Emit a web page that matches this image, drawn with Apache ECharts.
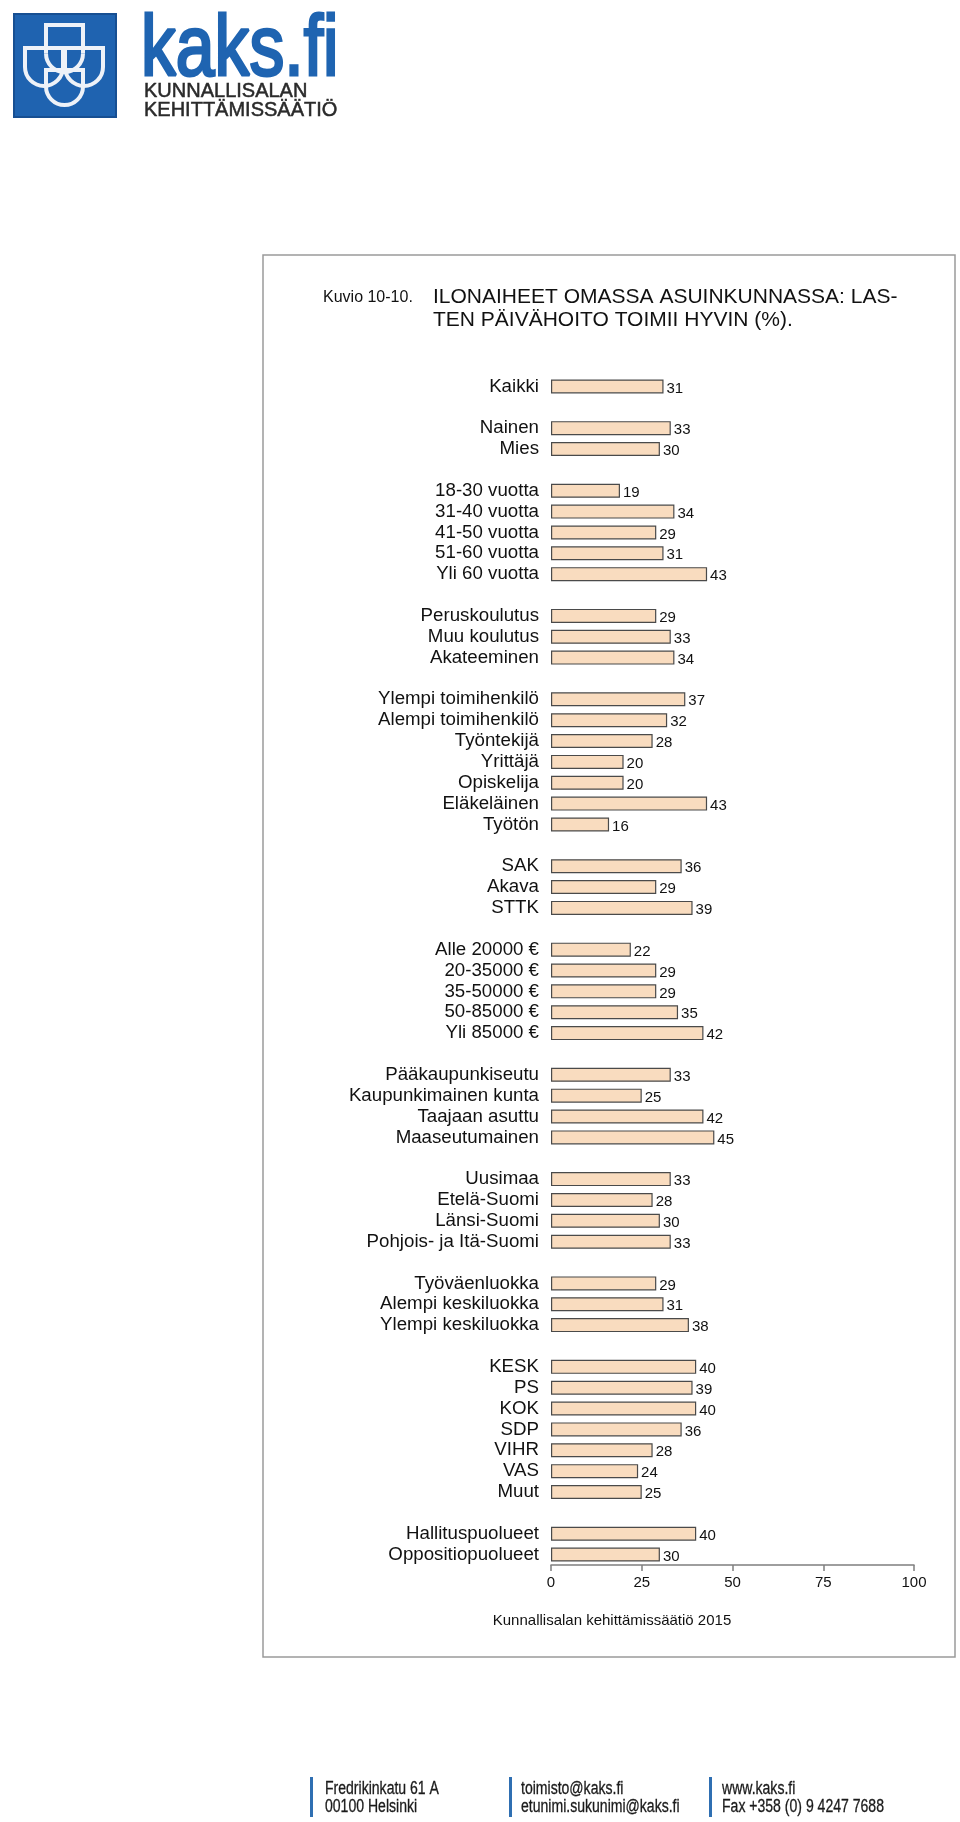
<!DOCTYPE html>
<html>
<head>
<meta charset="utf-8">
<script src="https://cdn.jsdelivr.net/npm/echarts@6/dist/echarts.min.js"></script>
<style>
html,body{margin:0;padding:0;background:#fff;}
#chart{width:960px;height:1822px;}
</style>
</head>
<body>
<div id="chart"></div>
<script>
// ---- Data ----
const grpAll = ['Kaikki'];
const valAll = [31];
const grpSex = ['Nainen', 'Mies'];
const valSex = [33, 30];
const grpAge = ['18-30 vuotta', '31-40 vuotta', '41-50 vuotta', '51-60 vuotta', 'Yli 60 vuotta'];
const valAge = [19, 34, 29, 31, 43];
const grpEdu = ['Peruskoulutus', 'Muu koulutus', 'Akateeminen'];
const valEdu = [29, 33, 34];
const grpOcc = ['Ylempi toimihenkilö', 'Alempi toimihenkilö', 'Työntekijä', 'Yrittäjä', 'Opiskelija', 'Eläkeläinen', 'Työtön'];
const valOcc = [37, 32, 28, 20, 20, 43, 16];
const grpUnion = ['SAK', 'Akava', 'STTK'];
const valUnion = [36, 29, 39];
const grpInc = ['Alle 20000 €', '20-35000 €', '35-50000 €', '50-85000 €', 'Yli 85000 €'];
const valInc = [22, 29, 29, 35, 42];
const grpMun = ['Pääkaupunkiseutu', 'Kaupunkimainen kunta', 'Taajaan asuttu', 'Maaseutumainen'];
const valMun = [33, 25, 42, 45];
const grpReg = ['Uusimaa', 'Etelä-Suomi', 'Länsi-Suomi', 'Pohjois- ja Itä-Suomi'];
const valReg = [33, 28, 30, 33];
const grpClass = ['Työväenluokka', 'Alempi keskiluokka', 'Ylempi keskiluokka'];
const valClass = [29, 31, 38];
const grpParty = ['KESK', 'PS', 'KOK', 'SDP', 'VIHR', 'VAS', 'Muut'];
const valParty = [40, 39, 40, 36, 28, 24, 25];
const grpGov = ['Hallituspuolueet', 'Oppositiopuolueet'];
const valGov = [40, 30];
const xTicks = [0, 25, 50, 75, 100];

// build category list with an empty slot between groups
const groups = [
  [grpAll, valAll], [grpSex, valSex], [grpAge, valAge], [grpEdu, valEdu],
  [grpOcc, valOcc], [grpUnion, valUnion], [grpInc, valInc], [grpMun, valMun],
  [grpReg, valReg], [grpClass, valClass], [grpParty, valParty], [grpGov, valGov]
];
const categories = [];
const values = [];
groups.forEach(function (g, i) {
  if (i > 0) { categories.push(' '.repeat(i)); values.push('-'); }
  g[0].forEach(function (c, j) { categories.push(c); values.push(g[1][j]); });
});

const chart = echarts.init(document.getElementById('chart'), null, {renderer: 'canvas'});
const FONT = '"Liberation Sans", Arial, sans-serif';

function footerText(x, y, t) {
  return {type: 'text', x: x, y: y, scaleX: 0.78, scaleY: 1,
    style: {text: t, font: '18px ' + FONT, fill: '#1a1a1a', stroke: '#1a1a1a', lineWidth: 0.3,
      verticalAlign: 'middle'}};
}
const EMB = '#eef2f8';
function shield(x0, x1, yTop, yBot) {
  const r = (x1 - x0) / 2;
  const yArc = yBot - r;
  return [
    {type: 'polyline', shape: {points: [[x0, yArc], [x0, yTop], [x1, yTop], [x1, yArc]]},
      style: {fill: null, stroke: EMB, lineWidth: 4}},
    {type: 'arc', shape: {cx: (x0 + x1) / 2, cy: yArc, r: r, startAngle: 0, endAngle: Math.PI, clockwise: true},
      style: {fill: null, stroke: EMB, lineWidth: 4}}
  ];
}

const graphics = [
  // logo
  {type: 'rect', shape: {x: 14, y: 14, width: 102, height: 103},
    style: {fill: '#1f63b0', stroke: '#174f92', lineWidth: 2}}
].concat(
  shield(46, 83, 25, 72),
  shield(25, 63, 48, 86),
  shield(65, 103, 48, 86),
  shield(46, 83, 70, 105),
  [
    {type: 'text', x: 141, y: 52, scaleX: 0.82,
      style: {text: 'kaks.fi', font: '85px ' + FONT, fill: '#1f64b1', stroke: '#1f64b1', lineWidth: 3,
        verticalAlign: 'middle'}},
    {type: 'text', x: 144, y: 91,
      style: {text: 'KUNNALLISALAN', font: '20px ' + FONT, fill: '#2a2a2a', stroke: '#2a2a2a', lineWidth: 0.5,
        verticalAlign: 'middle'}},
    {type: 'text', x: 144, y: 110,
      style: {text: 'KEHITTÄMISSÄÄTIÖ', font: '20px ' + FONT, fill: '#2a2a2a', stroke: '#2a2a2a', lineWidth: 0.5,
        verticalAlign: 'middle'}},
    // frame
    {type: 'rect', shape: {x: 263, y: 255, width: 692, height: 1402},
      style: {fill: null, stroke: '#9a9a9a', lineWidth: 1.5}, z: -1},
    // title
    {type: 'text', x: 323, y: 298,
      style: {text: 'Kuvio 10-10.', font: '16px ' + FONT, fill: '#111', verticalAlign: 'middle'}},
    {type: 'text', x: 433, y: 297,
      style: {text: 'ILONAIHEET OMASSA ASUINKUNNASSA: LAS-', font: '21px ' + FONT, fill: '#111', verticalAlign: 'middle'}},
    {type: 'text', x: 433, y: 320,
      style: {text: 'TEN PÄIVÄHOITO TOIMII HYVIN (%).', font: '21px ' + FONT, fill: '#111', verticalAlign: 'middle'}},
    // source
    {type: 'text', x: 612, y: 1621,
      style: {text: 'Kunnallisalan kehittämissäätiö 2015', font: '15px ' + FONT, fill: '#111',
        align: 'center', verticalAlign: 'middle'}},
    // footer
    {type: 'rect', shape: {x: 310, y: 1777, width: 3, height: 40}, style: {fill: '#2f6fb2'}},
    {type: 'rect', shape: {x: 509, y: 1777, width: 3, height: 40}, style: {fill: '#2f6fb2'}},
    {type: 'rect', shape: {x: 709, y: 1777, width: 3, height: 40}, style: {fill: '#2f6fb2'}},
    footerText(325, 1789, 'Fredrikinkatu 61 A'),
    footerText(325, 1807, '00100 Helsinki'),
    footerText(521, 1789, 'toimisto@kaks.fi'),
    footerText(521, 1807, 'etunimi.sukunimi@kaks.fi'),
    footerText(722, 1789, 'www.kaks.fi'),
    footerText(722, 1807, 'Fax +358 (0) 9 4247 7688')
  ]
);

const option = {
  backgroundColor: '#ffffff',
  animation: false,
  textStyle: {fontFamily: FONT},
  grid: {left: 551, right: 46, top: 376, bottom: 257, containLabel: false},
  xAxis: {
    type: 'value', min: 0, max: 100, interval: 25,
    axisLine: {show: true, lineStyle: {color: '#7f7f7f', width: 1.5}},
    axisTick: {show: true, length: 6, lineStyle: {color: '#7f7f7f', width: 1.5}},
    axisLabel: {color: '#111', fontSize: 15, margin: 10,
      formatter: function (v) { return xTicks.indexOf(v) >= 0 ? String(v) : ''; }},
    splitLine: {show: false}
  },
  yAxis: {
    type: 'category', data: categories, inverse: true,
    axisLine: {show: false}, axisTick: {show: false},
    axisLabel: {color: '#111', fontSize: 18.7, margin: 12, interval: 0}
  },
  series: [{
    type: 'bar', data: values, barWidth: 14,
    itemStyle: {color: '#f9dcbf', borderColor: '#4a4a4a', borderWidth: 1.2},
    label: {show: true, position: 'right', distance: 3, offset: [0, 2],
      color: '#111', fontSize: 15, fontFamily: FONT}
  }],
  graphic: graphics
};
chart.setOption(option);
</script>
</body>
</html>
